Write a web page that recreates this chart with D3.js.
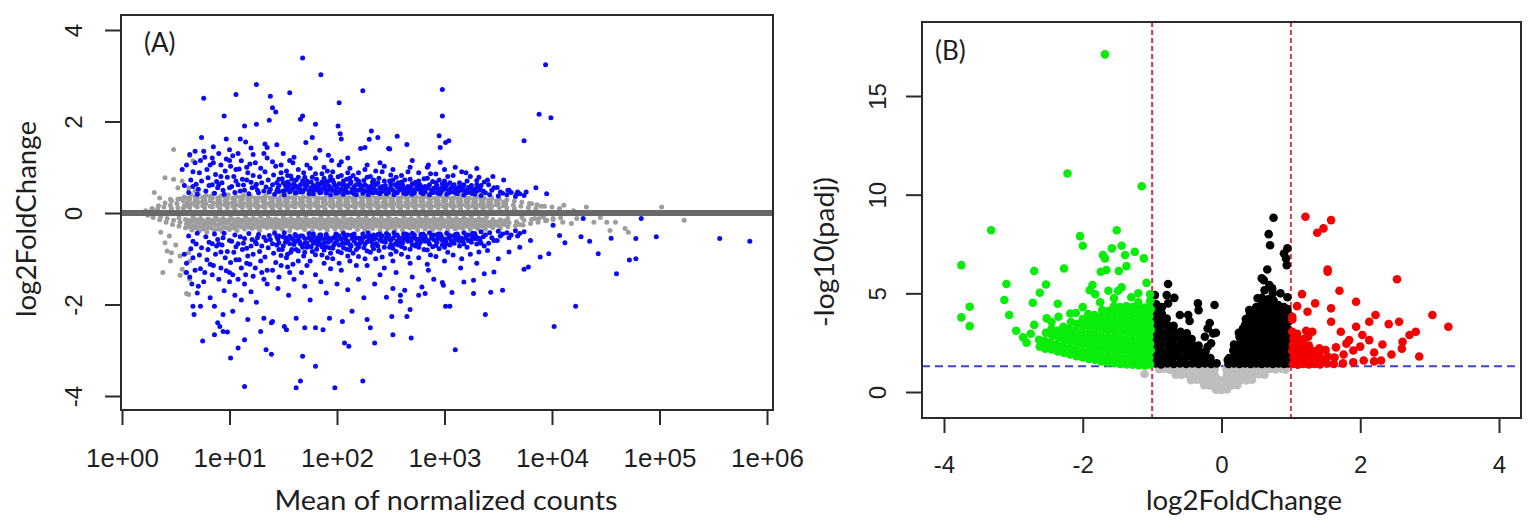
<!DOCTYPE html>
<html><head><meta charset="utf-8">
<script src="https://cdn.jsdelivr.net/npm/d3@7"></script>
<style>html,body{margin:0;padding:0;background:#fff;}svg{display:block;}</style>
</head><body>
<svg id="chart" width="1536" height="532"></svg>
<script>
// ---------------- Panel A (MA plot) data ----------------
// x = log10(mean of normalized counts), y = log2FoldChange
const maXTickVals = [0, 1, 2, 3, 4, 5, 6];
const maXTickLabels = ["1e+00", "1e+01", "1e+02", "1e+03", "1e+04", "1e+05", "1e+06"];
const maYTickVals = [-4, -2, 0, 2, 4];
const maYTickLabels = ["-4", "-2", "0", "2", "4"];
const maRefLine = [0];

// non-significant genes (grey), dense band around zero
const maNonSigBand = [
[0.22,0.05],[0.24,-0.05],[0.28,0.1],[0.29,-0.1],[0.27,0.04],[0.34,0.16],[0.35,-0.15],[0.33,0.09],[0.36,-0.08],
[0.4,0.22],[0.41,-0.2],[0.39,0.13],[0.42,-0.12],[0.46,0.27],[0.47,-0.25],[0.45,0.17],[0.48,-0.16],[0.46,0.1],
[0.52,0.3],[0.53,-0.29],[0.51,0.21],[0.54,-0.2],[0.52,0.12],[0.53,-0.11],
[0.58,0.35],[0.59,-0.33],[0.57,0.26],[0.6,-0.24],[0.58,0.16],[0.59,-0.14],[0.57,0.1],
[0.64,0.4],[0.65,-0.37],[0.63,0.3],[0.66,-0.28],[0.64,0.2],[0.65,-0.18],[0.63,0.12],[0.66,-0.1],
[0.71,0.41],[0.72,-0.39],[0.7,0.32],[0.73,-0.29],[0.71,0.23],[0.72,-0.2],[0.7,0.13],[0.73,-0.12],
[0.78,0.38],[0.79,-0.41],[0.77,0.29],[0.8,-0.31],[0.78,0.2],[0.79,-0.22],[0.77,0.11],[0.8,-0.13],
[0.85,0.42],[0.86,-0.37],[0.84,0.33],[0.87,-0.27],[0.85,0.22],[0.86,-0.18],[0.84,0.13],[0.87,-0.1],
[0.92,0.37],[0.93,-0.4],[0.91,0.28],[0.94,-0.3],[0.92,0.19],[0.93,-0.21],[0.91,0.1],[0.94,-0.12],
[0.99,0.4],[1.0,-0.36],[0.98,0.31],[1.01,-0.27],[0.99,0.21],[1.0,-0.17],[0.98,0.12],[1.01,-0.11],
[1.06,0.36],[1.07,-0.38],[1.05,0.27],[1.08,-0.29],[1.06,0.18],[1.07,-0.2],[1.05,0.1],[1.08,-0.13],
[1.13,0.38],[1.14,-0.35],[1.12,0.3],[1.15,-0.26],[1.13,0.2],[1.14,-0.17],[1.12,0.12],[1.15,-0.1],
[1.2,0.36],[1.21,-0.34],[1.19,0.27],[1.22,-0.25],[1.2,0.18],[1.21,-0.16],[1.19,0.1],[1.22,-0.12],
[1.27,0.33],[1.28,-0.38],[1.26,0.24],[1.29,-0.29],[1.27,0.15],[1.28,-0.2],[1.26,0.11],[1.29,-0.1],
[1.34,0.38],[1.35,-0.32],[1.33,0.29],[1.36,-0.23],[1.34,0.2],[1.35,-0.14],[1.33,0.12],[1.36,-0.11],
[1.41,0.35],[1.42,-0.37],[1.4,0.26],[1.43,-0.28],[1.41,0.17],[1.42,-0.19],[1.4,0.1],[1.43,-0.13],
[1.48,0.37],[1.49,-0.35],[1.47,0.28],[1.5,-0.26],[1.48,0.19],[1.49,-0.17],[1.47,0.11],[1.5,-0.1],
[1.55,0.34],[1.56,-0.39],[1.54,0.25],[1.57,-0.3],[1.55,0.16],[1.56,-0.21],[1.54,0.1],[1.57,-0.12],
[1.62,0.39],[1.63,-0.33],[1.61,0.3],[1.64,-0.24],[1.62,0.21],[1.63,-0.15],[1.61,0.13],[1.64,-0.11],
[1.69,0.35],[1.7,-0.36],[1.68,0.26],[1.71,-0.27],[1.69,0.17],[1.7,-0.18],[1.68,0.1],[1.71,-0.1],
[1.76,0.37],[1.77,-0.38],[1.75,0.28],[1.78,-0.29],[1.76,0.19],[1.77,-0.2],[1.75,0.12],[1.78,-0.13],
[1.83,0.33],[1.84,-0.34],[1.82,0.24],[1.85,-0.25],[1.83,0.15],[1.84,-0.16],[1.82,0.11],[1.85,-0.1],
[1.9,0.38],[1.91,-0.37],[1.89,0.29],[1.92,-0.28],[1.9,0.2],[1.91,-0.19],[1.89,0.1],[1.92,-0.12],
[1.97,0.35],[1.98,-0.35],[1.96,0.26],[1.99,-0.26],[1.97,0.17],[1.98,-0.17],[1.96,0.12],[1.99,-0.11],
[2.04,0.36],[2.05,-0.38],[2.03,0.27],[2.06,-0.29],[2.04,0.18],[2.05,-0.2],[2.03,0.1],[2.06,-0.1],
[2.11,0.34],[2.12,-0.33],[2.1,0.25],[2.13,-0.24],[2.11,0.16],[2.12,-0.15],[2.1,0.11],[2.13,-0.13],
[2.18,0.38],[2.19,-0.36],[2.17,0.29],[2.2,-0.27],[2.18,0.2],[2.19,-0.18],[2.17,0.12],[2.2,-0.11],
[2.25,0.35],[2.26,-0.37],[2.24,0.26],[2.27,-0.28],[2.25,0.17],[2.26,-0.19],[2.24,0.1],[2.27,-0.1],
[2.32,0.37],[2.33,-0.34],[2.31,0.28],[2.34,-0.25],[2.32,0.19],[2.33,-0.16],[2.31,0.11],[2.34,-0.12],
[2.39,0.33],[2.4,-0.38],[2.38,0.24],[2.41,-0.29],[2.39,0.15],[2.4,-0.2],[2.38,0.1],[2.41,-0.11],
[2.46,0.36],[2.47,-0.35],[2.45,0.27],[2.48,-0.26],[2.46,0.18],[2.47,-0.17],[2.45,0.12],[2.48,-0.1],
[2.53,0.38],[2.54,-0.36],[2.52,0.29],[2.55,-0.27],[2.53,0.2],[2.54,-0.18],[2.52,0.11],[2.55,-0.13],
[2.6,0.34],[2.61,-0.37],[2.59,0.25],[2.62,-0.28],[2.6,0.16],[2.61,-0.19],[2.59,0.1],[2.62,-0.1],
[2.67,0.37],[2.68,-0.33],[2.66,0.28],[2.69,-0.24],[2.67,0.19],[2.68,-0.15],[2.66,0.12],[2.69,-0.12],
[2.74,0.35],[2.75,-0.38],[2.73,0.26],[2.76,-0.29],[2.74,0.17],[2.75,-0.2],[2.73,0.1],[2.76,-0.11],
[2.81,0.36],[2.82,-0.35],[2.8,0.27],[2.83,-0.26],[2.81,0.18],[2.82,-0.17],[2.8,0.11],[2.83,-0.1],
[2.88,0.33],[2.89,-0.36],[2.87,0.24],[2.9,-0.27],[2.88,0.15],[2.89,-0.18],[2.87,0.1],[2.9,-0.12],
[2.95,0.37],[2.96,-0.34],[2.94,0.28],[2.97,-0.25],[2.95,0.19],[2.96,-0.16],[2.94,0.12],[2.97,-0.11],
[3.02,0.35],[3.03,-0.37],[3.01,0.26],[3.04,-0.28],[3.02,0.17],[3.03,-0.19],[3.01,0.1],[3.04,-0.1],
[3.09,0.34],[3.1,-0.35],[3.08,0.25],[3.11,-0.26],[3.09,0.16],[3.1,-0.17],[3.08,0.11],[3.11,-0.12],
[3.16,0.36],[3.17,-0.33],[3.15,0.27],[3.18,-0.24],[3.16,0.18],[3.17,-0.15],[3.15,0.1],[3.18,-0.11],
[3.23,0.33],[3.24,-0.36],[3.22,0.24],[3.25,-0.27],[3.23,0.15],[3.24,-0.18],[3.22,0.12],[3.25,-0.1],
[3.3,0.35],[3.31,-0.34],[3.29,0.26],[3.32,-0.25],[3.3,0.17],[3.31,-0.16],[3.29,0.1],[3.32,-0.12],
[3.37,0.32],[3.38,-0.35],[3.36,0.23],[3.39,-0.26],[3.37,0.14],[3.38,-0.17],[3.36,0.11],[3.39,-0.1],
[3.44,0.33],[3.45,-0.32],[3.43,0.24],[3.46,-0.23],[3.44,0.15],[3.45,-0.14],[3.43,0.1],
[3.51,0.3],[3.52,-0.33],[3.5,0.21],[3.53,-0.24],[3.51,0.12],[3.52,-0.15],
[3.58,0.29],[3.59,-0.3],[3.57,0.2],[3.6,-0.21],[3.58,0.11],[3.59,-0.12],
[3.65,0.26],[3.66,-0.28],[3.64,0.17],[3.67,-0.19],[3.65,0.1],
[3.72,0.24],[3.73,-0.26],[3.71,0.15],[3.74,-0.16],[3.72,-0.1],
[3.79,0.21],[3.8,-0.23],[3.78,0.12],[3.81,-0.14],[3.86,0.18],[3.87,-0.2],[3.85,0.1],[3.88,-0.12],
[3.93,0.15],[3.94,-0.17],[3.92,-0.09],[4.0,0.13],[4.01,-0.14],[4.07,0.1],[4.08,-0.11]
];
// non-significant genes (grey), band fill between the above columns
const maNonSigBand2 = [
[0.61,0.32],[0.62,-0.3],[0.61,0.23],[0.62,-0.22],[0.61,0.15],[0.62,-0.16],
[0.68,0.35],[0.69,-0.33],[0.68,0.26],[0.69,-0.24],[0.68,0.17],[0.69,-0.15],
[0.75,0.34],[0.76,-0.35],[0.75,0.25],[0.76,-0.26],[0.75,0.16],[0.76,-0.17],
[0.82,0.36],[0.83,-0.33],[0.82,0.27],[0.83,-0.23],[0.82,0.15],[0.83,-0.16],
[0.89,0.33],[0.9,-0.35],[0.89,0.24],[0.9,-0.25],[0.89,0.16],[0.9,-0.15],
[0.96,0.35],[0.97,-0.32],[0.96,0.26],[0.97,-0.22],[0.96,0.17],[0.97,-0.16],
[1.03,0.32],[1.04,-0.33],[1.03,0.23],[1.04,-0.24],[1.03,0.15],[1.04,-0.15],
[1.1,0.34],[1.11,-0.3],[1.1,0.25],[1.11,-0.21],[1.1,0.16],[1.11,-0.16],
[1.17,0.33],[1.18,-0.31],[1.17,0.24],[1.18,-0.23],[1.17,0.15],[1.18,-0.15],
[1.24,0.32],[1.25,-0.31],[1.24,0.24],[1.25,-0.23],[1.24,0.16],[1.25,-0.15],
[1.31,0.34],[1.32,-0.29],[1.31,0.25],[1.32,-0.21],[1.31,0.15],[1.32,-0.16],
[1.38,0.33],[1.39,-0.3],[1.38,0.23],[1.39,-0.22],[1.38,0.16],[1.39,-0.15],
[1.45,0.31],[1.46,-0.31],[1.45,0.24],[1.46,-0.23],[1.45,0.15],[1.46,-0.16],
[1.52,0.33],[1.53,-0.29],[1.52,0.25],[1.53,-0.21],[1.52,0.16],[1.53,-0.15],
[1.59,0.34],[1.6,-0.3],[1.59,0.23],[1.6,-0.22],[1.59,0.15],[1.6,-0.16],
[1.66,0.32],[1.67,-0.31],[1.66,0.24],[1.67,-0.23],[1.66,0.16],[1.67,-0.15],
[1.73,0.33],[1.74,-0.29],[1.73,0.25],[1.74,-0.21],[1.73,0.15],[1.74,-0.16],
[1.8,0.34],[1.81,-0.3],[1.8,0.23],[1.81,-0.22],[1.8,0.16],[1.81,-0.15],
[1.87,0.32],[1.88,-0.31],[1.87,0.24],[1.88,-0.23],[1.87,0.15],[1.88,-0.16],
[1.94,0.33],[1.95,-0.29],[1.94,0.25],[1.95,-0.21],[1.94,0.16],[1.95,-0.15],
[2.01,0.34],[2.02,-0.3],[2.01,0.23],[2.02,-0.22],[2.01,0.15],[2.02,-0.16],
[2.08,0.32],[2.09,-0.31],[2.08,0.24],[2.09,-0.23],[2.08,0.16],[2.09,-0.15],
[2.15,0.33],[2.16,-0.29],[2.15,0.25],[2.16,-0.21],[2.15,0.15],[2.16,-0.16],
[2.22,0.34],[2.23,-0.3],[2.22,0.23],[2.23,-0.22],[2.22,0.16],[2.23,-0.15],
[2.29,0.32],[2.3,-0.31],[2.29,0.24],[2.3,-0.23],[2.29,0.15],[2.3,-0.16],
[2.36,0.33],[2.37,-0.29],[2.36,0.25],[2.37,-0.21],[2.36,0.16],[2.37,-0.15],
[2.43,0.34],[2.44,-0.3],[2.43,0.23],[2.44,-0.22],[2.43,0.15],[2.44,-0.16],
[2.5,0.32],[2.51,-0.31],[2.5,0.24],[2.51,-0.23],[2.5,0.16],[2.51,-0.15],
[2.57,0.33],[2.58,-0.29],[2.57,0.25],[2.58,-0.21],[2.57,0.15],[2.58,-0.16],
[2.64,0.34],[2.65,-0.3],[2.64,0.23],[2.65,-0.22],[2.64,0.16],[2.65,-0.15],
[2.71,0.32],[2.72,-0.31],[2.71,0.24],[2.72,-0.23],[2.71,0.15],[2.72,-0.16],
[2.78,0.33],[2.79,-0.29],[2.78,0.25],[2.79,-0.21],[2.78,0.16],[2.79,-0.15],
[2.85,0.34],[2.86,-0.3],[2.85,0.23],[2.86,-0.22],[2.85,0.15],[2.86,-0.16],
[2.92,0.32],[2.93,-0.31],[2.92,0.24],[2.93,-0.23],[2.92,0.16],[2.93,-0.15],
[2.99,0.33],[3.0,-0.29],[2.99,0.25],[3.0,-0.21],[2.99,0.15],[3.0,-0.16],
[3.06,0.32],[3.07,-0.3],[3.06,0.23],[3.07,-0.22],[3.06,0.16],[3.07,-0.15],
[3.13,0.31],[3.14,-0.31],[3.13,0.24],[3.14,-0.23],[3.13,0.15],[3.14,-0.16],
[3.2,0.32],[3.21,-0.29],[3.2,0.25],[3.21,-0.21],[3.2,0.16],[3.21,-0.15],
[3.27,0.3],[3.28,-0.3],[3.27,0.22],[3.28,-0.22],[3.27,0.15],[3.28,-0.16],
[3.34,0.29],[3.35,-0.29],[3.34,0.21],[3.35,-0.21],[3.34,0.15],[3.35,-0.15],
[3.41,0.28],[3.42,-0.28],[3.41,0.2],[3.42,-0.2],[3.41,0.14],
[3.48,0.26],[3.49,-0.27],[3.48,0.18],[3.49,-0.19],[3.55,0.24],[3.56,-0.25],[3.55,0.16],[3.56,-0.17]
];
// non-significant genes (grey), scattered
const maNonSigScatter = [
[0.48,1.39],[0.63,1.25],[0.66,1.14],[0.4,0.77],[0.48,0.74],[0.56,0.7],[0.62,0.55],[0.68,0.48],[0.35,0.33],[0.45,0.3],
[0.54,0.31],[0.4,-0.65],[0.42,-0.83],[0.46,-0.87],[0.54,-0.94],[0.62,-0.87],[0.63,-1.05],[0.45,-1.05],[0.56,-1.23],
[0.59,-1.3],[0.38,-1.3],[0.63,-1.45],[0.62,-1.78],[0.54,-1.36],[0.6,-1.76],[0.3,0.45],[0.52,0.55],[0.44,-0.5],
[0.5,-0.7],[0.36,-0.42],[4.11,0.17],[4.32,0.13],[5.02,0.13],[5.23,-0.16],[4.39,-0.2],[4.51,-0.2],[4.59,-0.2],
[4.68,-0.34],[4.71,-0.42],[4.54,-0.38],[3.84,-0.12],[3.95,-0.16],[4.01,-0.12],[4.1,-0.2],[4.18,-0.23],[4.23,-0.12],
[3.81,0.2],[3.9,0.15],[4.2,0.05],[3.7,-0.25],[4.45,-0.1]
];
// significant genes (blue), dense bands
const maSigBand = [
[0.62,0.45],[0.64,0.72],[0.6,1.05],[0.66,0.58],[0.63,1.28],[0.7,0.41],[0.72,0.88],[0.69,0.63],[0.73,1.15],[0.71,0.52],
[0.78,0.48],[0.8,0.77],[0.77,1.22],[0.81,0.6],[0.79,0.95],[0.86,0.43],[0.88,0.69],[0.85,1.1],[0.89,0.55],[0.87,0.84],[0.9,1.3],
[0.94,0.5],[0.96,0.92],[0.93,0.66],[0.97,1.18],[0.95,0.41],[1.02,0.58],[1.04,0.8],[1.01,1.02],[1.05,0.45],[1.03,1.25],[1.06,0.7],
[1.1,0.48],[1.12,0.74],[1.09,0.96],[1.13,0.61],[1.11,1.14],[1.18,0.42],[1.2,0.67],[1.17,0.88],[1.21,0.55],[1.19,1.07],[1.22,1.28],
[1.26,0.5],[1.28,0.79],[1.25,0.63],[1.29,0.98],[1.27,0.44],[1.34,0.57],[1.36,0.72],[1.33,0.9],[1.37,0.46],[1.35,1.2],
[1.42,0.41],[1.44,0.66],[1.41,0.83],[1.45,0.54],[1.43,1.02],[1.5,0.48],[1.52,0.6],[1.49,0.75],[1.53,0.92],[1.51,0.4],[1.54,0.68],
[1.58,0.52],[1.6,0.64],[1.57,0.81],[1.61,0.44],[1.59,1.1],[1.62,0.58],[1.66,0.46],[1.68,0.7],[1.65,0.58],[1.69,0.88],[1.67,0.5],[1.7,0.62],
[1.74,0.42],[1.76,0.55],[1.73,0.67],[1.77,0.78],[1.75,0.98],[1.78,0.49],[1.82,0.5],[1.84,0.63],[1.81,0.74],[1.85,0.45],[1.83,0.57],[1.86,0.86],
[1.9,0.44],[1.92,0.6],[1.89,0.52],[1.93,0.71],[1.91,0.92],[1.94,0.4],[1.98,0.48],[2.0,0.56],[1.97,0.66],[2.01,0.79],[1.99,0.43],[2.02,1.05],
[2.06,0.41],[2.08,0.53],[2.05,0.62],[2.09,0.74],[2.07,0.47],[2.1,0.88],[2.14,0.45],[2.16,0.58],[2.13,0.68],[2.17,0.5],[2.15,0.82],[2.18,0.4],
[2.22,0.52],[2.24,0.43],[2.21,0.63],[2.25,0.71],[2.23,0.56],[2.26,0.95],[2.3,0.47],[2.32,0.59],[2.29,0.4],[2.33,0.68],[2.31,0.8],[2.34,0.53],
[2.38,0.44],[2.4,0.55],[2.37,0.64],[2.41,0.49],[2.39,0.76],[2.42,0.9],[2.46,0.42],[2.48,0.52],[2.45,0.6],[2.49,0.7],[2.47,0.47],[2.5,0.83],
[2.54,0.46],[2.56,0.57],[2.53,0.4],[2.57,0.66],[2.55,0.78],[2.62,0.43],[2.64,0.54],[2.61,0.62],[2.65,0.48],[2.63,0.72],[2.66,0.9],
[2.7,0.41],[2.72,0.5],[2.69,0.58],[2.73,0.67],[2.71,0.45],[2.78,0.44],[2.8,0.53],[2.77,0.62],[2.81,0.75],[2.79,0.48],
[2.86,0.4],[2.88,0.5],[2.85,0.58],[2.89,0.69],[2.87,0.86],[2.94,0.43],[2.96,0.52],[2.93,0.6],[2.97,0.47],[2.95,0.72],
[3.02,0.41],[3.04,0.5],[3.01,0.58],[3.05,0.66],[3.03,0.8],[3.1,0.44],[3.12,0.54],[3.09,0.62],[3.13,0.48],
[3.18,0.4],[3.2,0.5],[3.17,0.57],[3.21,0.7],[3.26,0.42],[3.28,0.52],[3.25,0.6],[3.29,0.46],[3.34,0.38],[3.36,0.48],[3.33,0.56],[3.37,0.68],
[3.42,0.4],[3.44,0.5],[3.41,0.62],[3.5,0.37],[3.52,0.46],[3.49,0.56],[3.58,0.4],[3.6,0.5],[3.66,0.36],[3.68,0.46],[3.74,0.38],
[0.62,-0.5],[0.64,-0.78],[0.6,-1.1],[0.66,-0.62],[0.63,-1.4],[0.7,-0.44],[0.72,-0.92],[0.69,-0.68],[0.73,-1.22],[0.71,-1.6],
[0.78,-0.52],[0.8,-0.8],[0.77,-1.3],[0.81,-0.64],[0.79,-1.02],[0.86,-0.46],[0.88,-0.72],[0.85,-1.15],[0.89,-0.58],[0.87,-0.9],[0.9,-1.45],
[0.94,-0.54],[0.96,-0.98],[0.93,-0.7],[0.97,-1.26],[0.95,-0.44],[1.02,-0.62],[1.04,-0.86],[1.01,-1.08],[1.05,-0.48],[1.03,-1.35],[1.06,-0.74],
[1.1,-0.52],[1.12,-0.8],[1.09,-1.02],[1.13,-0.66],[1.11,-1.2],[1.14,-1.55],[1.18,-0.45],[1.2,-0.72],[1.17,-0.94],[1.21,-0.58],[1.19,-1.12],[1.22,-1.38],
[1.26,-0.54],[1.28,-0.84],[1.25,-0.67],[1.29,-1.05],[1.27,-0.47],[1.3,-1.3],[1.34,-0.6],[1.36,-0.76],[1.33,-0.96],[1.37,-0.49],[1.35,-1.25],
[1.42,-0.44],[1.44,-0.7],[1.41,-0.88],[1.45,-0.57],[1.43,-1.08],[1.46,-1.4],[1.5,-0.52],[1.52,-0.64],[1.49,-0.8],[1.53,-0.98],[1.51,-0.43],[1.54,-1.18],
[1.58,-0.56],[1.6,-0.69],[1.57,-0.86],[1.61,-0.47],[1.59,-1.12],[1.62,-0.62],[1.66,-0.5],[1.68,-0.75],[1.65,-0.62],[1.69,-0.94],[1.67,-1.3],[1.7,-0.66],
[1.74,-0.45],[1.76,-0.59],[1.73,-0.72],[1.77,-0.84],[1.75,-1.05],[1.78,-0.52],[1.82,-0.54],[1.84,-0.67],[1.81,-0.79],[1.85,-0.48],[1.83,-0.61],[1.86,-0.92],
[1.9,-0.47],[1.92,-0.64],[1.89,-0.56],[1.93,-0.76],[1.91,-0.98],[1.94,-1.22],[1.98,-0.52],[2.0,-0.6],[1.97,-0.7],[2.01,-0.84],[1.99,-0.46],[2.02,-1.1],
[2.06,-0.44],[2.08,-0.57],[2.05,-0.66],[2.09,-0.79],[2.07,-0.5],[2.1,-0.94],[2.14,-0.48],[2.16,-0.62],[2.13,-0.72],[2.17,-0.54],[2.15,-0.88],[2.18,-1.15],
[2.22,-0.56],[2.24,-0.46],[2.21,-0.67],[2.25,-0.76],[2.23,-0.6],[2.26,-1.0],[2.3,-0.5],[2.32,-0.63],[2.29,-0.43],[2.33,-0.72],[2.31,-0.86],[2.34,-0.57],
[2.38,-0.47],[2.4,-0.59],[2.37,-0.68],[2.41,-0.52],[2.39,-0.82],[2.42,-0.96],[2.46,-0.45],[2.48,-0.56],[2.45,-0.64],[2.49,-0.75],[2.47,-0.5],[2.5,-0.9],
[2.54,-0.49],[2.56,-0.61],[2.53,-0.43],[2.57,-0.7],[2.55,-0.84],[2.62,-0.46],[2.64,-0.58],[2.61,-0.66],[2.65,-0.51],[2.63,-0.77],[2.66,-0.96],
[2.7,-0.44],[2.72,-0.54],[2.69,-0.62],[2.73,-0.72],[2.71,-0.48],[2.78,-0.47],[2.8,-0.57],[2.77,-0.66],[2.81,-0.8],[2.79,-0.52],
[2.86,-0.43],[2.88,-0.54],[2.85,-0.62],[2.89,-0.74],[2.87,-0.92],[2.94,-0.46],[2.96,-0.56],[2.93,-0.64],[2.97,-0.5],[2.95,-0.78],
[3.02,-0.44],[3.04,-0.54],[3.01,-0.62],[3.05,-0.7],[3.03,-0.86],[3.1,-0.47],[3.12,-0.58],[3.09,-0.66],[3.13,-0.52],
[3.18,-0.43],[3.2,-0.54],[3.17,-0.61],[3.21,-0.75],[3.26,-0.45],[3.28,-0.56],[3.25,-0.64],[3.29,-0.5],[3.34,-0.41],[3.36,-0.52],[3.33,-0.6],[3.37,-0.72],
[3.42,-0.43],[3.44,-0.54],[3.41,-0.66],[3.5,-0.4],[3.52,-0.5],[3.49,-0.6],[3.58,-0.43],[3.6,-0.54],[3.66,-0.39],[3.68,-0.5],[3.74,-0.41]
];
// significant genes (blue), additional dense-core points
const maSigCore = [
[0.66,0.9],[0.74,0.7],[0.82,1.05],[0.9,0.62],[0.98,0.78],[1.06,0.95],[1.14,0.5],[1.22,0.82],[1.3,0.66],[1.38,0.52],[1.46,0.74],[1.46,0.47],
[1.54,0.55],[1.54,0.82],[1.62,0.45],[1.62,0.72],[1.7,0.52],[1.7,0.78],[1.78,0.6],[1.78,0.42],[1.86,0.52],[1.86,0.68],[1.94,0.56],[1.94,0.8],
[2.02,0.46],[2.02,0.64],[2.1,0.58],[2.1,0.45],[2.18,0.62],[2.18,0.74],[2.26,0.48],[2.26,0.62],[2.34,0.44],[2.34,0.72],[2.42,0.58],[2.42,0.47],
[2.5,0.55],[2.5,0.64],[2.58,0.5],[2.58,0.6],[2.66,0.45],[2.66,0.58],[2.74,0.54],[2.74,0.62],[2.82,0.46],[2.82,0.58],[2.9,0.54],[2.9,0.45],
[2.98,0.56],[2.98,0.64],[3.06,0.46],[3.06,0.55],[3.14,0.58],[3.14,0.66],[3.22,0.45],[3.22,0.56],[3.3,0.52],[3.3,0.62],[3.38,0.44],[3.46,0.55],
[3.54,0.43],[3.62,0.45],[3.7,0.42],[1.5,0.66],[1.58,0.74],[1.66,0.62],[1.74,0.5],[1.82,0.64],[1.9,0.68],[1.98,0.6],[2.06,0.7],[2.14,0.52],
[2.22,0.6],[2.3,0.54],[2.38,0.66],[2.46,0.5],[2.54,0.62],[2.62,0.5],[2.7,0.64],[2.78,0.58],[2.86,0.62],[2.94,0.5],[3.02,0.62],[3.1,0.5],
[3.18,0.62],[3.26,0.48],[3.34,0.6],[1.44,0.48],[1.52,0.5],[1.6,0.56],[1.68,0.46],[1.76,0.68],[1.84,0.44],[1.92,0.5],[2.0,0.44],[2.08,0.6],
[2.16,0.42],[2.24,0.5],[2.32,0.46],[2.4,0.42],[2.48,0.44],[2.56,0.44],[2.64,0.42],[2.72,0.44],[2.8,0.42],[2.88,0.44],[2.96,0.42],[3.04,0.44],
[3.12,0.42],[3.2,0.44],[3.28,0.41],
[0.68,1.1],[0.76,1.35],[0.84,1.2],[0.92,1.05],[1.0,1.15],[1.08,1.3],[1.16,1.0],[1.24,1.1],[1.32,1.3],[1.4,1.12],[1.48,1.05],[1.56,1.15],
[1.64,0.95],[1.72,1.05],[1.8,1.2],[1.88,1.0],[1.96,0.9],[2.04,1.12],[2.12,0.98],[2.2,0.88],[2.28,1.05],[2.36,0.92],[2.44,1.02],[2.52,0.95],
[2.6,0.82],[2.68,1.0],[2.76,0.88],[2.84,1.0],[2.92,0.85],[3.0,0.95],[3.08,0.82],[3.16,0.9],[3.24,0.8],[3.32,0.78],[3.4,0.72],
[1.46,0.6],[1.56,0.46],[1.64,0.54],[1.72,0.6],[1.8,0.56],[1.88,0.6],[1.96,0.5],[2.04,0.52],[2.12,0.64],[2.2,0.5],[2.28,0.58],[2.36,0.5],
[2.44,0.56],[2.52,0.5],[2.6,0.56],[2.68,0.5],[2.76,0.52],[2.84,0.54],[2.92,0.56],[3.0,0.52],[3.08,0.58],[3.16,0.5],[3.24,0.54],[3.32,0.5],
[1.0,0.55],[1.08,0.62],[1.16,0.72],[1.24,0.58],[1.32,0.48],[1.4,0.62],[0.84,0.62],[0.92,0.8],[1.48,0.88],[1.56,0.62],[1.64,0.78],[1.72,0.7],
[1.8,0.86],[1.88,0.76],[1.96,0.72],[2.04,0.82],[2.12,0.76],[2.2,0.7],[2.28,0.78],[2.36,0.62],[2.44,0.7],[2.52,0.72],[2.6,0.68],[2.68,0.74],
[2.76,0.7],[2.84,0.76],[2.92,0.66],[3.0,0.7],
[0.66,-0.98],[0.74,-0.76],[0.82,-1.12],[0.9,-0.68],[0.98,-0.84],[1.06,-1.02],[1.14,-0.56],[1.22,-0.9],[1.3,-0.72],[1.38,-0.58],[1.46,-0.8],[1.46,-0.5],
[1.54,-0.6],[1.54,-0.9],[1.62,-0.5],[1.62,-0.8],[1.7,-0.56],[1.7,-0.86],[1.78,-0.66],[1.78,-0.46],[1.86,-0.56],[1.86,-0.74],[1.94,-0.6],[1.94,-0.88],
[2.02,-0.5],[2.02,-0.7],[2.1,-0.62],[2.1,-0.48],[2.18,-0.68],[2.18,-0.8],[2.26,-0.52],[2.26,-0.68],[2.34,-0.48],[2.34,-0.78],[2.42,-0.62],[2.42,-0.5],
[2.5,-0.6],[2.5,-0.7],[2.58,-0.54],[2.58,-0.66],[2.66,-0.48],[2.66,-0.62],[2.74,-0.58],[2.74,-0.68],[2.82,-0.5],[2.82,-0.62],[2.9,-0.58],[2.9,-0.48],
[2.98,-0.6],[2.98,-0.7],[3.06,-0.5],[3.06,-0.6],[3.14,-0.62],[3.14,-0.72],[3.22,-0.48],[3.22,-0.6],[3.3,-0.56],[3.3,-0.68],[3.38,-0.48],[3.46,-0.6],
[3.54,-0.46],[3.62,-0.48],[3.7,-0.45],[1.5,-0.72],[1.58,-0.8],[1.66,-0.68],[1.74,-0.54],[1.82,-0.7],[1.9,-0.74],[1.98,-0.66],[2.06,-0.76],[2.14,-0.56],
[2.22,-0.64],[2.3,-0.58],[2.38,-0.72],[2.46,-0.54],[2.54,-0.68],[2.62,-0.54],[2.7,-0.7],[2.78,-0.62],[2.86,-0.68],[2.94,-0.54],[3.02,-0.68],[3.1,-0.54],
[3.18,-0.68],[3.26,-0.52],[3.34,-0.66],[1.44,-0.52],[1.52,-0.54],[1.6,-0.6],[1.68,-0.5],[1.76,-0.74],[1.84,-0.48],[1.92,-0.54],[2.0,-0.48],[2.08,-0.66],
[2.16,-0.46],[2.24,-0.54],[2.32,-0.5],[2.4,-0.46],[2.48,-0.48],[2.56,-0.48],[2.64,-0.46],[2.72,-0.48],[2.8,-0.46],[2.88,-0.48],[2.96,-0.46],[3.04,-0.48],
[3.12,-0.46],[3.2,-0.48],[3.28,-0.45],
[0.68,-1.25],[0.76,-1.5],[0.84,-1.35],[0.92,-1.2],[1.0,-1.3],[1.08,-1.45],[1.16,-1.1],[1.24,-1.2],[1.32,-1.45],[1.4,-1.25],[1.48,-1.15],[1.56,-1.3],
[1.64,-1.05],[1.72,-1.15],[1.8,-1.35],[1.88,-1.1],[1.96,-1.0],[2.04,-1.25],[2.12,-1.05],[2.2,-0.95],[2.28,-1.15],[2.36,-1.0],[2.44,-1.2],[2.52,-1.05],
[2.6,-0.9],[2.68,-1.1],[2.76,-0.98],[2.84,-1.12],[2.92,-0.95],[3.0,-1.05],[3.08,-0.92],[3.16,-1.0],[3.24,-0.9],[3.32,-0.85],[3.4,-0.82],
[1.46,-0.65],[1.56,-0.51],[1.64,-0.59],[1.72,-0.65],[1.8,-0.61],[1.88,-0.65],[1.96,-0.55],[2.04,-0.57],[2.12,-0.69],[2.2,-0.55],[2.28,-0.63],[2.36,-0.55],
[2.44,-0.61],[2.52,-0.55],[2.6,-0.61],[2.68,-0.55],[2.76,-0.57],[2.84,-0.59],[2.92,-0.61],[3.0,-0.57],[3.08,-0.63],[3.16,-0.55],[3.24,-0.59],[3.32,-0.55],
[1.0,-0.6],[1.08,-0.67],[1.16,-0.77],[1.24,-0.63],[1.32,-0.53],[1.4,-0.67],[0.84,-0.67],[0.92,-0.85],[1.48,-0.93],[1.56,-0.67],[1.64,-0.83],[1.72,-0.75],
[1.8,-0.91],[1.88,-0.81],[1.96,-0.77],[2.04,-0.87],[2.12,-0.81],[2.2,-0.75],[2.28,-0.83],[2.36,-0.67],[2.44,-0.75],[2.52,-0.77],[2.6,-0.73],[2.68,-0.79],
[2.76,-0.75],[2.84,-0.81],[2.92,-0.71],[3.0,-0.75]
];
// significant genes (blue), scattered outliers
const maSigScatter = [
[1.68,3.39],[1.85,3.02],[1.25,2.81],[2.24,2.67],[1.56,2.63],[1.06,2.59],[1.38,2.55],[0.76,2.51],[2.02,2.41],[1.4,2.3],[1.43,2.21],
[0.95,2.12],[1.68,2.12],[1.66,2.05],[1.37,2.03],[1.25,1.94],[1.14,1.9],[1.8,1.94],[2.01,1.9],[2.03,1.73],[2.04,1.62],[0.74,1.65],
[0.97,1.62],[1.1,1.62],[1.15,1.55],[1.33,1.51],[1.35,1.43],[1.44,1.49],[1.71,1.54],[1.77,1.65],[2.22,1.41],[2.26,1.43],[2.32,1.79],
[2.3,1.61],[2.38,1.65],[2.48,1.41],[2.56,1.68],[1.84,1.37],[1.92,1.26],[3.94,3.24],[2.98,2.7],[2.98,2.12],[3.88,2.16],[3.99,2.08],
[3.74,1.58],[2.95,1.69],[2.96,1.43],[3.04,1.58],[3.01,1.54],[2.65,1.5],[2.49,1.4],[2.96,1.11],[3.3,0.97],[3.3,0.71],[3.76,0.46],
[3.67,0.41],[3.59,0.5],[0.68,1.35],[0.85,1.45],[1.0,1.38],[1.2,1.42],[1.5,1.3],[1.6,1.22],[1.95,1.15],[2.1,1.2],[2.4,1.1],[2.7,1.15],
[2.85,1.05],[3.1,1.0],[3.2,0.88],[3.45,0.8],[3.55,0.72],[0.56,0.95],[0.58,0.6],[3.85,0.55],[3.95,0.42],
[4.83,-0.12],[4.97,-0.52],[5.56,-0.56],[5.84,-0.62],[4.78,-0.56],[4.55,-0.55],[4.29,-0.12],[4.27,-0.52],[4.35,-0.62],[4.43,-0.89],
[4.72,-1.03],[4.78,-1.0],[4.01,-0.27],[4.07,-0.49],[4.12,-0.65],[3.89,-0.96],[3.97,-0.89],[4.6,-1.33],[4.22,-2.04],[4.02,-2.48],
[3.1,-2.99],[3.38,-2.22],[3.54,-1.69],[3.43,-1.73],[3.27,-1.76],[3.27,-1.47],[3.18,-1.51],[3.37,-1.33],[3.46,-1.29],[3.07,-1.74],
[2.99,-1.58],[2.98,-1.52],[3.01,-2.04],[3.05,-2.04],[2.82,-1.76],[2.76,-1.8],[2.79,-1.62],[2.68,-2.11],[2.65,-2.26],[2.51,-2.26],
[2.52,-2.66],[2.69,-2.73],[2.59,-1.93],[2.59,-1.8],[2.46,-1.84],[2.52,-1.65],[2.63,-1.69],[3.74,-1.23],[3.78,-1.18],
[1.14,-3.79],[1.62,-3.82],[1.66,-3.67],[1.98,-3.82],[2.24,-3.67],[1.8,-3.35],[1.68,-3.13],[1.01,-3.17],[1.08,-2.95],[1.14,-2.77],
[1.34,-2.99],[1.39,-3.09],[0.75,-2.8],[2.07,-2.84],[2.11,-2.91],[2.35,-2.84],[0.86,-2.66],[0.94,-2.59],[0.98,-2.6],[1.29,-2.59],
[1.53,-2.55],[1.7,-2.51],[1.8,-2.51],[1.87,-2.55],[0.89,-2.4],[0.91,-2.48],[1.39,-2.4],[1.4,-2.37],[1.17,-2.33],[1.51,-2.48],
[1.62,-2.3],[2.14,-2.15],[2.31,-2.51],[2.28,-2.33],[1.93,-2.3],[2.05,-2.37],[0.66,-2.04],[0.73,-2.04],[0.67,-2.22],[0.86,-2.04],
[0.94,-2.22],[1.03,-2.15],[1.11,-1.9],[1.32,-2.3],[0.7,-1.75],[0.82,-1.85],[0.95,-1.7],[1.05,-1.8],[1.2,-1.72],[1.25,-1.95],
[1.45,-1.65],[1.55,-1.8],[1.7,-1.6],[1.75,-1.9],[1.85,-1.5],[1.9,-1.75],[2.0,-1.55],[2.1,-1.68],[2.2,-1.45],[2.25,-1.85],[2.35,-1.55],
[2.4,-1.35],[2.55,-1.3],[2.7,-1.4],[2.85,-1.25],[2.9,-1.45],[3.15,-1.2],[3.3,-1.1],[3.5,-1.0],[3.6,-0.85],[3.7,-0.75],[3.8,-0.6],
[0.6,-1.3],[0.58,-0.9],[0.65,-1.55],[1.0,-1.5],[1.35,-1.55],[1.6,-1.45],[1.15,-1.35]
];

// ---------------- Panel B (volcano plot) data ----------------
// x = log2FoldChange, y = -log10(padj)
const vXTickVals = [-4, -2, 0, 2, 4];
const vXTickLabels = ["-4", "-2", "0", "2", "4"];
const vYTickVals = [0, 5, 10, 15];
const vYTickLabels = ["0", "5", "10", "15"];
const vLfcCutoffs = [-1, 1];
const vPadjCutoff = [1.30103];

const vGray = [
[-0.9,1.15],[-0.82,1.18],[-0.74,1.12],[-0.66,1.16],[-0.58,1.14],[-0.5,1.18],[-0.42,1.13],[-0.34,1.16],[-0.26,1.12],[-0.18,1.17],
[-0.1,1.14],[0.07,1.15],[0.14,1.12],[0.22,1.17],[0.3,1.14],[0.38,1.18],[0.46,1.13],[0.54,1.16],[0.62,1.12],[0.7,1.17],[0.78,1.14],
[0.86,1.18],[0.92,1.13],[-0.66,0.88],[-0.58,0.86],[-0.5,0.9],[-0.42,0.87],[-0.34,0.89],[-0.26,0.86],[-0.18,0.9],[-0.1,0.87],
[0.08,0.88],[0.14,0.86],[0.22,0.9],[0.3,0.87],[0.38,0.89],[0.46,0.86],[0.54,0.9],[0.62,0.87],[-0.44,0.6],[-0.36,0.62],[-0.28,0.58],
[-0.2,0.61],[-0.12,0.59],[-0.04,0.62],[0.04,0.6],[0.12,0.62],[0.2,0.58],[0.28,0.61],[0.36,0.59],[0.44,0.62],[-0.25,0.35],[-0.17,0.33],
[-0.09,0.36],[-0.01,0.34],[0.07,0.36],[0.15,0.33],[0.23,0.35],[-0.08,0.12],[0.0,0.1],[0.08,0.13],[-1.11,0.91]
];
const vBlack = [
[-0.95,1.45],[-0.96,1.8],[-0.94,2.12],[-0.95,2.45],[-0.96,2.78],[-0.94,3.1],[-0.95,3.42],[-0.96,3.75],[-0.94,4.08],
[-0.87,1.4],[-0.88,1.72],[-0.86,2.05],[-0.87,2.38],[-0.88,2.7],[-0.86,3.02],[-0.87,3.35],[-0.88,3.68],[-0.86,3.98],
[-0.78,1.45],[-0.79,1.78],[-0.77,2.1],[-0.78,2.42],[-0.79,2.75],[-0.77,3.08],[-0.78,3.4],[-0.79,3.72],
[-0.69,1.42],[-0.7,1.75],[-0.68,2.08],[-0.69,2.4],[-0.7,2.72],[-0.68,3.05],[-0.69,3.36],
[-0.6,1.45],[-0.61,1.78],[-0.59,2.1],[-0.6,2.42],[-0.61,2.75],[-0.59,3.05],[-0.51,1.42],[-0.52,1.75],[-0.5,2.08],[-0.51,2.4],[-0.52,2.7],[-0.5,2.98],
[-0.42,1.45],[-0.43,1.78],[-0.41,2.1],[-0.42,2.4],[-0.43,2.68],[-0.33,1.42],[-0.34,1.75],[-0.32,2.05],[-0.33,2.35],
[-0.24,1.45],[-0.25,1.75],[-0.23,2.05],[-0.15,1.42],[-0.16,1.72],[-0.07,1.45],
[-0.77,5.47],[-0.96,4.91],[-0.79,4.91],[-0.68,4.77],[-0.77,4.49],[-0.34,4.49],[-0.1,4.41],[-0.48,3.9],[-0.2,3.22],[-0.12,2.97],
[-0.24,2.8],[-0.2,2.29],[-0.33,4.15],[-0.46,3.6],[-0.17,3.5],[-0.08,3.0],[-0.15,2.47],[-0.94,4.45],[-0.6,3.9],[-0.86,4.3],
[0.1,1.42],[0.11,1.72],[0.18,1.45],[0.19,1.78],[0.17,2.1],[0.18,2.4],[0.26,1.42],[0.27,1.75],[0.25,2.08],[0.26,2.4],[0.27,2.72],[0.25,3.0],
[0.34,1.45],[0.35,1.78],[0.33,2.1],[0.34,2.42],[0.35,2.75],[0.33,3.08],[0.34,3.4],
[0.42,1.42],[0.43,1.75],[0.41,2.08],[0.42,2.4],[0.43,2.72],[0.41,3.05],[0.42,3.38],[0.43,3.7],[0.41,3.95],
[0.5,1.45],[0.51,1.78],[0.49,2.1],[0.5,2.42],[0.51,2.75],[0.49,3.08],[0.5,3.4],[0.51,3.72],[0.49,4.05],[0.5,4.3],
[0.58,1.42],[0.59,1.75],[0.57,2.08],[0.58,2.4],[0.59,2.72],[0.57,3.05],[0.58,3.38],[0.59,3.7],[0.57,4.02],[0.58,4.35],[0.59,4.55],
[0.66,1.45],[0.67,1.78],[0.65,2.1],[0.66,2.42],[0.67,2.75],[0.65,3.08],[0.66,3.4],[0.67,3.72],[0.65,4.05],[0.66,4.38],[0.67,4.7],
[0.74,1.42],[0.75,1.75],[0.73,2.08],[0.74,2.4],[0.75,2.72],[0.73,3.05],[0.74,3.38],[0.75,3.7],[0.73,4.02],[0.74,4.35],[0.75,4.65],
[0.82,1.45],[0.83,1.78],[0.81,2.1],[0.82,2.42],[0.83,2.75],[0.81,3.08],[0.82,3.4],[0.83,3.72],[0.81,4.05],[0.82,4.4],
[0.9,1.42],[0.91,1.75],[0.89,2.08],[0.9,2.4],[0.91,2.72],[0.89,3.05],[0.9,3.38],[0.91,3.7],[0.89,4.0],[0.9,4.3],
[0.96,1.45],[0.97,1.8],[0.95,2.15],[0.96,2.5],[0.97,2.85],[0.95,3.2],[0.96,3.55],[0.97,3.9],[0.95,4.2],
[0.75,8.83],[0.68,8.0],[0.7,7.44],[0.95,7.28],[0.9,7.02],[0.93,6.77],[0.94,6.43],[0.66,6.21],[0.61,5.67],[0.69,5.42],[0.73,5.25],
[0.58,4.77],[0.58,5.76],[0.74,5.0],[0.62,5.16],[0.4,4.15],[0.31,3.22],[0.26,2.8],[0.09,1.62],[0.85,5.0],[0.95,4.8],[0.52,4.75],[0.35,3.7]
];
const vGreen = [
[-2.62,2.3],[-2.63,2.65],[-2.54,2.2],[-2.55,2.6],[-2.53,3.0],[-2.45,2.15],[-2.46,2.5],[-2.44,2.85],[-2.45,3.2],
[-2.36,2.05],[-2.37,2.4],[-2.35,2.75],[-2.36,3.1],[-2.27,1.98],[-2.28,2.3],[-2.26,2.62],[-2.27,2.95],[-2.28,3.3],
[-2.18,1.9],[-2.19,2.22],[-2.17,2.55],[-2.18,2.88],[-2.19,3.2],[-2.17,3.55],[-2.09,1.82],[-2.1,2.15],[-2.08,2.48],[-2.09,2.8],[-2.1,3.12],[-2.08,3.45],
[-2.0,1.75],[-2.01,2.08],[-1.99,2.4],[-2.0,2.72],[-2.01,3.05],[-1.99,3.38],[-2.0,3.7],
[-1.91,1.68],[-1.92,2.0],[-1.9,2.32],[-1.91,2.65],[-1.92,2.98],[-1.9,3.3],[-1.91,3.62],[-1.92,3.95],
[-1.82,1.62],[-1.83,1.95],[-1.81,2.28],[-1.82,2.6],[-1.83,2.92],[-1.81,3.25],[-1.82,3.58],[-1.83,3.9],
[-1.73,1.55],[-1.74,1.88],[-1.72,2.2],[-1.73,2.52],[-1.74,2.85],[-1.72,3.18],[-1.73,3.5],[-1.74,3.82],[-1.72,4.15],
[-1.64,1.5],[-1.65,1.82],[-1.63,2.15],[-1.64,2.48],[-1.65,2.8],[-1.63,3.12],[-1.64,3.45],[-1.65,3.78],[-1.63,4.1],
[-1.55,1.46],[-1.56,1.78],[-1.54,2.1],[-1.55,2.42],[-1.56,2.75],[-1.54,3.08],[-1.55,3.4],[-1.56,3.72],[-1.54,4.05],[-1.55,4.35],
[-1.46,1.42],[-1.47,1.75],[-1.45,2.08],[-1.46,2.4],[-1.47,2.72],[-1.45,3.05],[-1.46,3.38],[-1.47,3.7],[-1.45,4.02],[-1.46,4.3],
[-1.37,1.4],[-1.38,1.72],[-1.36,2.05],[-1.37,2.38],[-1.38,2.7],[-1.36,3.02],[-1.37,3.35],[-1.38,3.68],[-1.36,4.0],[-1.37,4.35],
[-1.28,1.38],[-1.29,1.7],[-1.27,2.02],[-1.28,2.35],[-1.29,2.68],[-1.27,3.0],[-1.28,3.32],[-1.29,3.65],[-1.27,3.98],[-1.28,4.3],
[-1.19,1.36],[-1.2,1.68],[-1.18,2.0],[-1.19,2.32],[-1.2,2.65],[-1.18,2.98],[-1.19,3.3],[-1.2,3.62],[-1.18,3.95],[-1.19,4.28],[-1.2,4.55],
[-1.1,1.35],[-1.11,1.68],[-1.09,2.0],[-1.1,2.32],[-1.11,2.65],[-1.09,2.98],[-1.1,3.3],[-1.11,3.62],[-1.09,3.95],[-1.1,4.28],
[-1.03,1.4],[-1.04,1.75],[-1.02,2.1],[-1.03,2.45],[-1.04,2.8],[-1.02,3.15],[-1.03,3.5],[-1.04,3.85],[-1.02,4.2],[-1.03,4.6],
[-1.68,17.11],[-2.22,11.07],[-1.15,10.43],[-3.32,8.2],[-1.51,8.2],[-2.04,7.9],[-2.0,7.41],[-1.58,7.28],[-1.44,7.41],[-1.39,6.94],
[-1.25,7.1],[-1.12,6.77],[-1.71,6.94],[-1.68,6.77],[-3.75,6.43],[-3.63,4.32],[-3.75,3.78],[-3.63,3.34],[-3.1,5.47],[-3.13,4.66],
[-3.06,3.9],[-2.7,6.13],[-2.62,5.03],[-2.53,5.45],[-2.72,4.52],[-2.36,4.47],[-2.27,6.26],[-1.37,6.38],[-1.48,6.13],[-1.66,6.18],
[-1.74,6.09],[-1.08,5.53],[-1.03,4.95],[-1.44,5.3],[-1.49,5.13],[-1.63,5.13],[-1.86,5.42],[-1.9,5.16],[-1.82,4.95],[-2.96,3.1],
[-2.86,2.77],[-2.81,2.5],[-2.18,3.98],[-2.35,3.81],[-2.52,3.73],[-2.0,4.3],[-2.1,4.0],[-1.2,5.0],[-1.3,4.8],[-1.55,4.75],[-1.75,4.55],
[-2.45,3.55],[-2.7,3.4],[-2.75,2.95]
];
const vRed = [
[1.03,1.42],[1.04,1.75],[1.02,2.08],[1.03,2.4],[1.04,2.72],[1.02,3.05],[1.1,1.38],[1.11,1.7],[1.09,2.02],[1.1,2.35],[1.11,2.68],[1.09,2.95],
[1.18,1.42],[1.19,1.75],[1.17,2.08],[1.18,2.4],[1.19,2.7],[1.26,1.4],[1.27,1.72],[1.25,2.05],[1.26,2.35],[1.34,1.42],[1.35,1.75],[1.33,2.08],
[1.42,1.4],[1.43,1.7],[1.41,2.0],[1.52,1.45],[1.53,1.8],[1.62,1.42],[1.63,1.75],[1.75,1.45],[1.76,1.9],[1.9,1.5],[2.05,1.6],[2.2,1.55],
[1.21,8.88],[1.58,8.71],[1.47,8.29],[1.38,8.07],[1.53,6.21],[1.53,6.09],[2.53,5.71],[1.7,5.13],[1.16,4.96],[1.35,4.49],[1.09,4.35],
[1.24,4.07],[1.58,4.24],[1.94,4.57],[3.04,3.9],[3.27,3.31],[2.22,3.9],[2.13,3.56],[2.41,3.44],[2.56,3.56],[1.58,3.56],[1.94,3.31],
[1.72,3.05],[2.03,2.89],[1.84,2.63],[2.13,2.63],[2.32,2.41],[2.61,2.55],[2.71,2.89],[2.8,3.05],[1.31,3.05],[1.02,3.68],[1.22,3.1],
[1.5,2.13],[1.65,2.26],[1.41,2.21],[1.02,3.81],[1.25,2.8],[1.9,2.1],[2.0,2.3],[2.2,2.0],[2.45,1.9],[2.6,2.2],[1.8,2.45],[2.85,1.8],[2.3,1.6]
];

// ---------------- drawing ----------------
const svg = d3.select("#chart");
const INK = "#2b2b2b";
const TICKFONT = "'Liberation Sans', Arial, sans-serif";
const TITLEFONT = "Lato, 'Open Sans', sans-serif";

function drawPanel(o) {
  const g = svg.append("g");
  const x = d3.scaleLinear().domain(o.xDom).range(o.xRng);
  const y = d3.scaleLinear().domain(o.yDom).range(o.yRng);
  const b = o.box;
  g.append("clipPath").attr("id", o.id).append("rect")
    .attr("x", b.l).attr("y", b.t).attr("width", b.r - b.l).attr("height", b.b - b.t);
  const plot = g.append("g").attr("clip-path", `url(#${o.id})`);
  o.before && o.before(plot, x, y, b);
  o.layers.forEach(L => {
    plot.append("g").selectAll("circle").data(L.data).join("circle")
      .attr("cx", d => x(d[0])).attr("cy", d => y(d[1]))
      .attr("r", L.r).attr("fill", L.color);
  });
  o.after && o.after(plot, x, y, b);
  g.append("rect").attr("x", b.l).attr("y", b.t).attr("width", b.r - b.l).attr("height", b.b - b.t)
    .attr("fill", "none").attr("stroke", INK).attr("stroke-width", 2);

  const ax = g.append("g").attr("transform", `translate(0,${b.b})`)
    .call(d3.axisBottom(x).tickValues(o.xTicks).tickFormat((d, i) => o.xLabels[i]).tickSize(o.xTickLen).tickSizeOuter(0));
  ax.select(".domain").remove();
  ax.selectAll(".tick line").attr("stroke", INK).attr("stroke-width", 2);
  ax.selectAll(".tick text").attr("y", o.xLabelBase - b.b).attr("dy", null)
    .style("font-family", TICKFONT).style("font-size", o.tickFont + "px").attr("fill", "#1e1e1e");

  const ay = g.append("g").attr("transform", `translate(${b.l},0)`)
    .call(d3.axisLeft(y).tickValues(o.yTicks).tickFormat((d, i) => o.yLabels[i]).tickSize(o.yTickLen).tickSizeOuter(0));
  ay.select(".domain").remove();
  ay.selectAll(".tick line").attr("stroke", INK).attr("stroke-width", 2);
  ay.selectAll(".tick text").attr("x", null).attr("dy", null).attr("text-anchor", "middle")
    .attr("transform", `translate(${o.yLabelBase - b.l},0) rotate(-90)`)
    .style("font-family", TICKFONT).style("font-size", "24px").attr("fill", "#1e1e1e");

  g.append("text").text(o.xTitle).attr("x", o.xTitlePos[0]).attr("y", o.xTitlePos[1])
    .attr("text-anchor", "middle").attr("textLength", o.xTitleLen).attr("lengthAdjust", "spacingAndGlyphs")
    .style("font-family", TITLEFONT).style("font-size", "26px").attr("fill", "#1e1e1e");
  g.append("text").text(o.yTitle).attr("text-anchor", "middle")
    .attr("transform", `translate(${o.yTitlePos[0]},${o.yTitlePos[1]}) rotate(-90)`)
    .attr("textLength", o.yTitleLen).attr("lengthAdjust", "spacingAndGlyphs")
    .style("font-family", TITLEFONT).style("font-size", "27px").attr("fill", "#1e1e1e");
  g.append("text").text(o.tag).attr("x", o.tagPos[0]).attr("y", o.tagPos[1])
    .style("font-family", TITLEFONT).style("font-size", "26px").attr("fill", "#1e1e1e");
}

// Panel A
drawPanel({
  id: "clipA", xDom: [0, 6], xRng: [122, 767], yDom: [-4, 4], yRng: [396, 30],
  box: { l: 121, t: 15, r: 773, b: 410 },
  xTicks: maXTickVals, xLabels: maXTickLabels, yTicks: maYTickVals, yLabels: maYTickLabels,
  xTickLen: 15, yTickLen: 16, xLabelBase: 467, yLabelBase: 82, tickFont: 26,
  layers: [
    { data: maNonSigBand, color: "#9d9d9d", r: 2.5 },
    { data: maNonSigBand2, color: "#9d9d9d", r: 2.5 },
    { data: maNonSigScatter, color: "#9d9d9d", r: 2.5 },
    { data: maSigBand, color: "#0a0af5", r: 2.5 },
    { data: maSigCore, color: "#0a0af5", r: 2.5 },
    { data: maSigScatter, color: "#0a0af5", r: 2.5 }
  ],
  after: (p, x, y, b) => {
    p.selectAll("line.ref").data(maRefLine).join("line").attr("class", "ref")
      .attr("x1", b.l).attr("x2", b.r).attr("y1", d => y(d)).attr("y2", d => y(d))
      .attr("stroke", "#686868").attr("stroke-width", 6);
  },
  xTitle: "Mean of normalized counts", xTitlePos: [446, 510], xTitleLen: 343,
  yTitle: "log2FoldChange", yTitlePos: [36, 219], yTitleLen: 196,
  tag: "(A)", tagPos: [144, 52]
});

// Panel B
drawPanel({
  id: "clipB", xDom: [-4, 4], xRng: [944, 1499], yDom: [0, 15], yRng: [392, 96],
  box: { l: 922, t: 22, r: 1521, b: 418 },
  xTicks: vXTickVals, xLabels: vXTickLabels, yTicks: vYTickVals, yLabels: vYTickLabels,
  xTickLen: 15, yTickLen: 16, xLabelBase: 473, yLabelBase: 886, tickFont: 24,
  before: (p, x, y, b) => {
    p.selectAll("line.lfc").data(vLfcCutoffs).join("line").attr("class", "lfc")
      .attr("x1", d => x(d)).attr("x2", d => x(d)).attr("y1", b.t).attr("y2", b.b)
      .attr("stroke", "#e8323f").attr("stroke-width", 2).attr("stroke-dasharray", "5,3");
    p.selectAll("line.padj").data(vPadjCutoff).join("line").attr("class", "padj")
      .attr("x1", b.l).attr("x2", b.r).attr("y1", d => y(d)).attr("y2", d => y(d))
      .attr("stroke", "#4242cc").attr("stroke-width", 2).attr("stroke-dasharray", "8,5");
  },
  layers: [
    { data: vGray, color: "#bebebe", r: 4.3 },
    { data: vBlack, color: "#000000", r: 4.3 },
    { data: vGreen, color: "#0aec0a", r: 4.3 },
    { data: vRed, color: "#f40000", r: 4.3 }
  ],
  xTitle: "log2FoldChange", xTitlePos: [1244, 510], xTitleLen: 196,
  yTitle: "-log10(padj)", yTitlePos: [834, 252], yTitleLen: 150,
  tag: "(B)", tagPos: [935, 60]
});
</script>
</body></html>
